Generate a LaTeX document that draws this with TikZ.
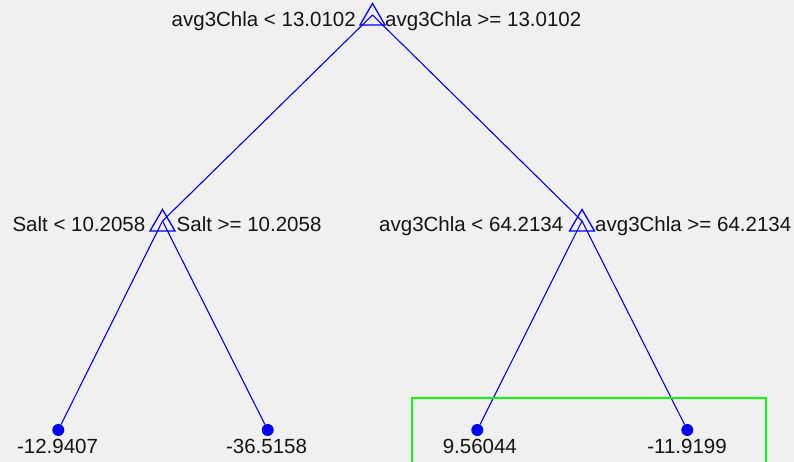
\documentclass[tikz,border=0pt]{standalone}
\usepackage{fontspec}
\setmainfont{Liberation Sans}
\usetikzlibrary{calc}
\definecolor{mblue}{RGB}{0,0,255}
\definecolor{mgreen}{RGB}{0,255,0}
\definecolor{mbg}{RGB}{240,240,240}
\definecolor{mtext}{RGB}{20,20,20}
\begin{document}
\begin{tikzpicture}[x=1pt,y=-1pt,
  edge/.style={draw=mblue, line width=1.1pt},
  tri/.style={draw=mblue, line width=1.3pt, line join=miter},
  leafdot/.style={circle, fill=mblue, inner sep=0pt, minimum size=12pt},
  lbl/.style={inner sep=0pt, font=\fontsize{20.5}{24}\selectfont, text=mtext},
  sel/.style={draw=mgreen, line width=2pt}]
\fill[mbg] (0,0) rectangle (794,462);
\useasboundingbox (0,0) rectangle (794,462);
\clip (0,0) rectangle (794,462);
% nodes
\coordinate (r) at (372.5,15);
\coordinate (a) at (162.5,221);
\coordinate (b) at (582,221);
\node[leafdot] (l1) at (58.3,430) {};
\node[leafdot] (l2) at (267.7,430) {};
\node[leafdot] (l3) at (477.3,430) {};
\node[leafdot] (l4) at (687.3,430) {};
% edges
\draw[edge] (r) -- (a);
\draw[edge] (r) -- (b);
\draw[edge] (a) -- (l1);
\draw[edge] (a) -- (l2);
\draw[edge] (b) -- (l3);
\draw[edge] (b) -- (l4);
% triangle markers
\foreach \n in {r,a,b}{
  \draw[tri] ($(\n)+(0,-11.5)$) -- ($(\n)+(12.5,10)$) -- ($(\n)+(-12.5,10)$) -- cycle;
}
% labels
\node[lbl, anchor=base east] (rl) at (356,27) {avg3Chla < 13.0102};
\node[lbl, anchor=base west] (rr) at (385,27) {avg3Chla >= 13.0102};
\node[lbl, anchor=base east] (al) at (145.5,232) {Salt < 10.2058};
\node[lbl, anchor=base west] (ar) at (176.5,232) {Salt >= 10.2058};
\node[lbl, anchor=base east] (bl) at (563.5,232) {avg3Chla < 64.2134};
\node[lbl, anchor=base west] (br) at (595,232) {avg3Chla >= 64.2134};
\node[lbl, anchor=base] (t1) at (57.5,453) {-12.9407};
\node[lbl, anchor=base] (t2) at (266.5,453) {-36.5158};
\node[lbl, anchor=base] (t3) at (479.8,453) {9.56044};
\node[lbl, anchor=base] (t4) at (687,453) {-11.9199};
% selection box
\draw[sel] (412,398) rectangle (766,480);
\end{tikzpicture}
\end{document}
